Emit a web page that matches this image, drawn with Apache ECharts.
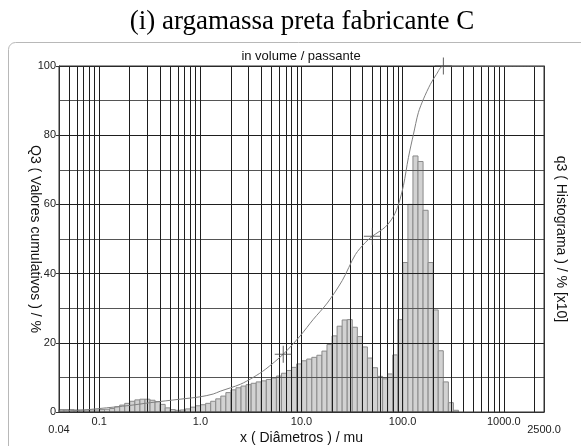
<!DOCTYPE html>
<html>
<head>
<meta charset="utf-8">
<script src="https://cdn.jsdelivr.net/npm/echarts@6/dist/echarts.min.js"></script>
<style>
html,body{margin:0;padding:0;background:#fff;}
#chart{width:581px;height:446px;}
</style>
</head>
<body>
<div id="chart"></div>
<script>
// ---- data ----
const titleText = '(i) argamassa preta fabricante C';
const subTitleText = 'in volume / passante';
const xName = 'x ( Diâmetros ) / mu';
const yLeftName = 'Q3 ( Valores cumulativos ) / %';
const yRightName = 'q3 ( Histograma ) / % [x10]';

const xTickValues = [0.04, 0.1, 1, 10, 100, 1000, 2500];
const xTickLabels = ['0.04', '0.1', '1.0', '10.0', '100.0', '1000.0', '2500.0'];
const xEndLabels = ['0.04', '2500.0'];

// histogram classes: lower bound 0.04, 20 classes per decade
const histStart = 0.04;
const classesPerDecade = 20;
const histValues = [
  0.7,0.7,0.7,0.6,0.6,0.6,0.6,0.6,0.7,0.8,
  1.0,1.5,2.0,2.5,3.1,3.5,3.7,3.7,3.4,3.0,
  2.2,1.2,0.7,0.5,0.6,0.9,1.4,1.8,2.1,2.5,
  3.1,3.8,4.6,5.6,6.4,7.0,7.5,7.9,8.3,8.7,
  9.0,9.4,9.8,10.4,11.2,12.0,12.9,13.9,14.8,15.3,
  15.8,16.4,17.6,19.5,22.0,24.8,26.6,26.7,24.5,21.8,
  18.8,15.6,12.8,10.3,9.6,11.0,16.5,26.7,43.2,60.0,
  74.0,72.4,58.3,43.2,29.5,17.7,8.7,2.7,0.5
];

// cumulative curve
const cumX = [0.04,0.065,0.1,0.2,0.32,0.63,1.0,1.34,1.57,2.48,3.33,4.38,6.6,9.7,13.1,18.0,25.3,34.1,42.8,50.2,67.6,81,91,102,114,128,143,161,188,216,253,2500];
const cumY = [0.3,0.5,1.0,1.9,2.7,3.7,4.4,5.2,6.0,8.0,10.0,12.3,16.7,22.0,26.8,31.5,38.0,45.5,49.0,50.8,53.5,56.5,60.0,65.5,73.5,80.3,86.5,90.5,94.7,97.6,100,100];

// marked points on curve
const markX = [6.6, 50.2, 253];
const markY = [16.7, 50.8, 100];

// ---- build ----
const histData = histValues.map((v, k) => [
  histStart * Math.pow(10, k / classesPerDecade),
  histStart * Math.pow(10, (k + 1) / classesPerDecade),
  v
]);
const cumData = cumX.map((x, i) => [x, cumY[i]]);
const markData = markX.map((x, i) => [x, markY[i]]);

// minor log grid lines
const minorGrid = [];
for (let n = -2; n <= 3; n++) {
  for (let m = 2; m <= 9; m++) {
    const v = +(m * Math.pow(10, n)).toPrecision(3);
    if (v > 0.04 && v < 2500) minorGrid.push({ xAxis: v });
  }
}

const GRID = '#1e1e1e';
const chart = echarts.init(document.getElementById('chart'), null, { renderer: 'canvas' });

chart.setOption({
  animation: false,
  backgroundColor: '#fff',
  graphic: [
    { type: 'rect', shape: { x: 8.5, y: 42.5, width: 700, height: 500, r: 7 },
      style: { fill: 'none', stroke: '#b8b8b8', lineWidth: 1 }, silent: true, z: -1 },
    { type: 'text', x: 302, y: 22, style: { text: titleText, font: '27px "Liberation Serif"', fill: '#000', textAlign: 'center', textVerticalAlign: 'middle' } },
    { type: 'text', x: 301, y: 56, style: { text: subTitleText, font: '13px "Liberation Sans"', fill: '#111', textAlign: 'center', textVerticalAlign: 'middle' } }
  ],
  grid: { left: 59, right: 37, top: 66, bottom: 34, outerBoundsMode: 'none', containLabel: false,
          show: true, borderColor: '#333', borderWidth: 1, backgroundColor: 'transparent', z: 6 },
  xAxis: {
    type: 'log', logBase: 10, min: 0.04, max: 2500, z: 5,
    name: xName, nameLocation: 'middle', nameGap: 19, nameMoveOverlap: false,
    nameTextStyle: { fontFamily: 'Liberation Sans', fontSize: 14, color: '#111', verticalAlign: 'top' },
    axisLine: { show: true, lineStyle: { color: '#333' } },
    axisTick: { show: false },
    axisLabel: {
      fontFamily: 'Liberation Sans', fontSize: 11, color: '#222', margin: 4, showMinLabel: true, showMaxLabel: true,
      formatter: function (v) {
        let best = 0;
        for (let i = 0; i < xTickValues.length; i++) {
          if (Math.abs(Math.log10(v) - Math.log10(xTickValues[i])) < Math.abs(Math.log10(v) - Math.log10(xTickValues[best]))) best = i;
        }
        const lab = xTickLabels[best];
        return xEndLabels.indexOf(lab) >= 0 ? '{e|' + lab + '}' : lab;
      },
      rich: { e: { fontFamily: 'Liberation Sans', fontSize: 11, color: '#222', padding: [8, 0, 0, 0] } }
    },
    splitLine: { show: true, lineStyle: { color: GRID, width: 1 } }
  },
  yAxis: [
    {
      type: 'value', min: 0, max: 100, interval: 20, z: 5,
      name: yLeftName, nameLocation: 'middle', nameGap: 17, nameRotate: -90, nameMoveOverlap: false,
      nameTextStyle: { fontFamily: 'Liberation Sans', fontSize: 14, color: '#111' },
      axisLine: { show: true, lineStyle: { color: '#333' } },
      axisTick: { show: true, length: 3, lineStyle: { color: '#333' } },
      axisLabel: { fontFamily: 'Liberation Sans', fontSize: 11, color: '#222', margin: 3, padding: [0, 0, 6, 0] },
      splitLine: { show: true, lineStyle: { color: GRID, width: 1 } },
      minorTick: { show: false, splitNumber: 2 },
      minorSplitLine: { show: true, lineStyle: { color: '#555', width: 1 } }
    },
    {
      type: 'value', min: 0, max: 100, interval: 20, position: 'right', z: 5,
      name: yRightName, nameLocation: 'middle', nameGap: 10, nameRotate: -90, nameMoveOverlap: false,
      nameTextStyle: { fontFamily: 'Liberation Sans', fontSize: 14, color: '#111' },
      axisLine: { show: true, lineStyle: { color: '#333' } },
      axisTick: { show: false },
      axisLabel: { show: false },
      splitLine: { show: false }
    }
  ],
  series: [
    {
      type: 'custom', name: 'q3', xAxisIndex: 0, yAxisIndex: 1, z: 1,
      encode: { x: [0, 1], y: 2 },
      data: histData,
      renderItem: function (params, api) {
        const p0 = api.coord([api.value(0), api.value(2)]);
        const p1 = api.coord([api.value(1), 0]);
        return {
          type: 'rect',
          shape: { x: p0[0], y: p0[1], width: p1[0] - p0[0], height: p1[1] - p0[1] },
          style: { fill: '#d2d2d2', stroke: '#8a8a8a', lineWidth: 1 }
        };
      }
    },
    {
      type: 'line', name: 'Q3', xAxisIndex: 0, yAxisIndex: 0, z: 7,
      data: cumData, showSymbol: false, smooth: 0.3,
      lineStyle: { color: '#808080', width: 1 },
      markLine: {
        silent: true, symbol: ['none', 'none'], label: { show: false },
        lineStyle: { color: GRID, width: 1, type: 'solid' },
        emphasis: { disabled: true },
        data: minorGrid, z: 5
      }
    },
    {
      type: 'scatter', name: 'marks', xAxisIndex: 0, yAxisIndex: 0, z: 8,
      data: markData,
      symbol: 'path://M0,7.5H16V8.5H0Z M7.5,0H8.5V16H7.5Z',
      symbolSize: 17,
      itemStyle: { color: '#444' }
    }
  ]
});
</script>
</body>
</html>
